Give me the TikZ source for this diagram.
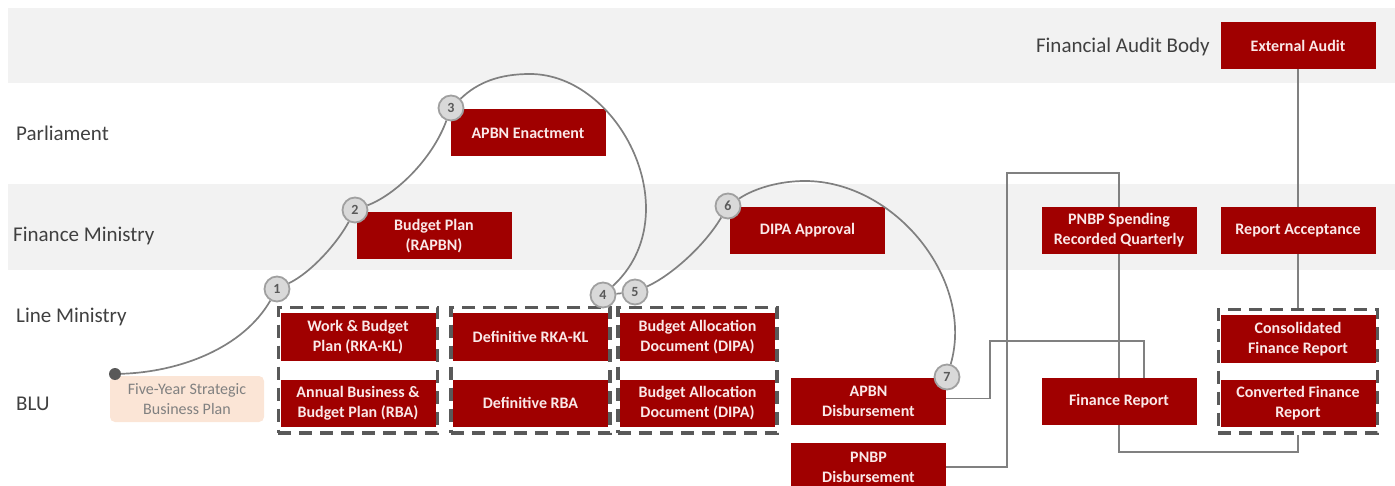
\documentclass[tikz,border=0pt]{standalone}
\usepackage{fontspec}
\setmainfont{Carlito}
\usetikzlibrary{calc}
\usetikzlibrary{positioning}
\usetikzlibrary{fit}
\definecolor{blockred}{RGB}{160,0,0}
\definecolor{blocktext}{RGB}{250,232,232}
\definecolor{laneband}{RGB}{242,242,242}
\definecolor{lanetext}{RGB}{64,64,64}
\definecolor{flowgray}{RGB}{128,128,128}
\definecolor{groupgray}{RGB}{89,89,89}
\definecolor{numfill}{RGB}{217,217,217}
\definecolor{numdraw}{RGB}{160,160,160}
\definecolor{peach}{RGB}{251,229,214}
\tikzset{
  stage/.style={fill=blockred, text=blocktext, font=\fontsize{16}{20}\selectfont\bfseries,
    align=center, minimum width=155, minimum height=47, inner sep=0},
  lane/.style={text=lanetext, font=\fontsize{21}{25}\selectfont, inner sep=0},
  stepnum/.style={circle, fill=numfill, draw=numdraw, line width=1.8, minimum size=25,
    inner sep=0, text=groupgray, font=\fontsize{14}{14}\selectfont\bfseries},
  stagegroup/.style={draw=groupgray, line width=3.5, dash pattern=on 13pt off 8pt,
    inner xsep=2, inner ysep=6},
  flow/.style={draw=flowgray, line width=1.7},
}

\begin{document}
\begin{tikzpicture}[x=1pt, y=-1pt]
  \useasboundingbox (0,0) rectangle (1395,486);
  \fill[laneband] (8,8) rectangle (1395,83);
  \fill[laneband] (8,184) rectangle (1395,270);

  \node[lane, anchor=east] (audit) at (1210,47) {Financial Audit Body};
  \node[lane, anchor=west] (parl) at (16,133) {Parliament};
  \node[lane, anchor=west] (finmin) at (13,236) {Finance Ministry};
  \node[lane, anchor=west] (linemin) at (16,317) {Line Ministry};
  \node[lane, anchor=west] (blu) at (16,404) {BLU};

  \node[stage] (extaudit) at (1298,45.5) {External Audit};
  \node[stage] (enact) at (528,133) {APBN Enactment};
  \node[stage] (rapbn) at (434,236) {Budget Plan\\(RAPBN)};
  \node[stage] (dipaok) at (807.5,230.5) {DIPA Approval};
  \node[stage] (pnbprec) at (1119,230.5) {PNBP Spending\\Recorded Quarterly};
  \node[stage] (repacc) at (1298,230.5) {Report Acceptance};

  \node[stage] (rkakl) at (358,337) {Work \& Budget\\Plan (RKA-KL)};
  \node[stage, below=19pt of rkakl] (rba) {Annual Business \&\\Budget Plan (RBA)};
  \node[stage] (defrkakl) at (530.5,337) {Definitive RKA-KL};
  \node[stage, below=19pt of defrkakl] (defrba) {Definitive RBA};
  \node[stage] (dipa) at (697.5,337) {Budget Allocation\\Document (DIPA)};
  \node[stage, below=19pt of dipa] (dipablu) {Budget Allocation\\Document (DIPA)};
  \node[stage] (consol) at (1298,339) {Consolidated\\Finance Report};
  \node[stage, below=17pt of consol] (conv) {Converted Finance\\Report};
  \node[stage] (apbndis) at (868.5,401.5) {APBN\\Disbursement};
  \node[stage, below=18pt of apbndis] (pnbpdis) {PNBP\\Disbursement};
  \node[stage] (finrep) at (1119,401.5) {Finance Report};

  \node[fill=peach, rounded corners=5, text=flowgray, font=\fontsize{16}{20}\selectfont,
    align=center, minimum width=154, minimum height=46, inner sep=0] (strategic) at (187,399)
    {Five-Year Strategic\\Business Plan};

  \node[stagegroup, fit=(rkakl)(rba)] (grp1) {};
  \node[stagegroup, fit=(defrkakl)(defrba)] (grp2) {};
  \node[stagegroup, fit=(dipa)(dipablu)] (grp3) {};
  \node[stagegroup, fit=(consol)(conv)] (grp4) {};

  \node[circle, fill=groupgray, minimum size=12, inner sep=0] (start) at (115,374) {};
  \node[stepnum] (n1) at (277,289) {1};
  \node[stepnum] (n2) at (355,210) {2};
  \node[stepnum] (n3) at (451,108) {3};
  \node[stepnum] (n4) at (603,295) {4};
  \node[stepnum] (n5) at (635,292) {5};
  \node[stepnum] (n6) at (728,206) {6};
  \node[stepnum] (n7) at (947,377) {7};

  % numbered path
  \draw[flow] (start) .. controls (180,372) and (243,348) .. (n1);
  \draw[flow] (n1) .. controls (312,272) and (338,242) .. (n2);
  \draw[flow] (n2) .. controls (395,195) and (432,160) .. (n3);
  \draw[flow] (n3) .. controls (478,82) and (500,74) .. (530,74)
    .. controls (620,74) and (690,215) .. (n4);
  \draw[flow] (n4) -- (n5);
  \draw[flow] (n5) .. controls (672,275) and (705,245) .. (n6);
  \draw[flow] (n6) .. controls (755,188) and (780,181) .. (805,181)
    .. controls (895,181) and (975,280) .. (n7);

  % reporting
  \coordinate (pnbpturn) at (1007,173);
  \coordinate (apbnturn) at (990,341);
  \draw[flow] (pnbpdis.east) -| (pnbpturn) -| (pnbprec.north);
  \draw[flow] ([yshift=3pt]apbndis.east) -| (apbnturn) -| ([xshift=25pt]finrep.north);
  \draw[flow] (pnbprec) -- (finrep);
  \draw[flow] (finrep.south) -- ++(0,27) -| (grp4.south);
  \draw[flow] (extaudit) -- (repacc);
  \draw[flow] (repacc) -- (grp4);
\end{tikzpicture}
\end{document}
